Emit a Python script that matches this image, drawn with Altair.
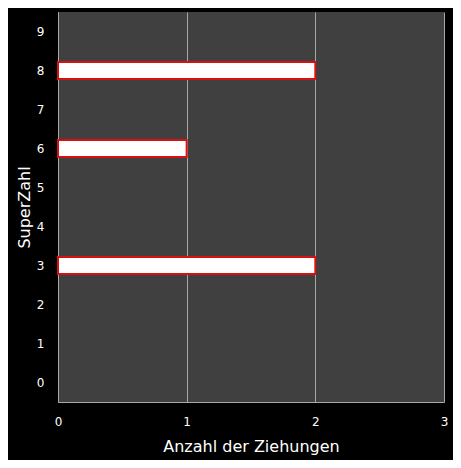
import altair as alt
import pandas as pd

categories = [str(i) for i in range(10)]
counts = [0, 0, 0, 2, 0, 0, 1, 0, 2, 0]

df = pd.DataFrame({"SuperZahl": categories, "Anzahl": counts})

FONT = "DejaVu Sans"

chart = alt.Chart(df).mark_bar(
    fill="white", stroke="#d81010", strokeWidth=2
).encode(
    y=alt.Y("SuperZahl:N",
            scale=alt.Scale(domain=categories[::-1], paddingInner=0.56, paddingOuter=0.28),
            axis=alt.Axis(title="SuperZahl", ticks=False, labelPadding=14,
                          labelColor="white", labelFontSize=12, labelFont=FONT,
                          titleColor="white", titleFontSize=16, titleFont=FONT,
                          titleFontWeight="normal", titlePadding=4,
                          domain=True, domainColor="#a8a8a8", grid=False)),
    x=alt.X("Anzahl:Q", scale=alt.Scale(domain=[0, 3], nice=False),
            axis=alt.Axis(title="Anzahl der Ziehungen", values=[0, 1, 2, 3],
                          format="d", ticks=False, labelPadding=14, labelFlush=False,
                          labelColor="white", labelFontSize=12, labelFont=FONT,
                          titleColor="white", titleFontSize=16, titleFont=FONT,
                          titleFontWeight="normal", titlePadding=11,
                          domain=True, domainColor="#a8a8a8",
                          grid=True, gridColor="#a8a8a8", gridWidth=1)),
).transform_filter(
    alt.datum.Anzahl > 0
).properties(
    width=386, height=390,
    background="black",
    padding={"left": 50, "top": 4, "right": 9, "bottom": 58},
    autosize=alt.AutoSizeParams(type="none"),
).configure_view(
    fill="#404040", stroke=None
)

chart.save("out.html", embed_options={"renderer": "svg", "actions": False})
